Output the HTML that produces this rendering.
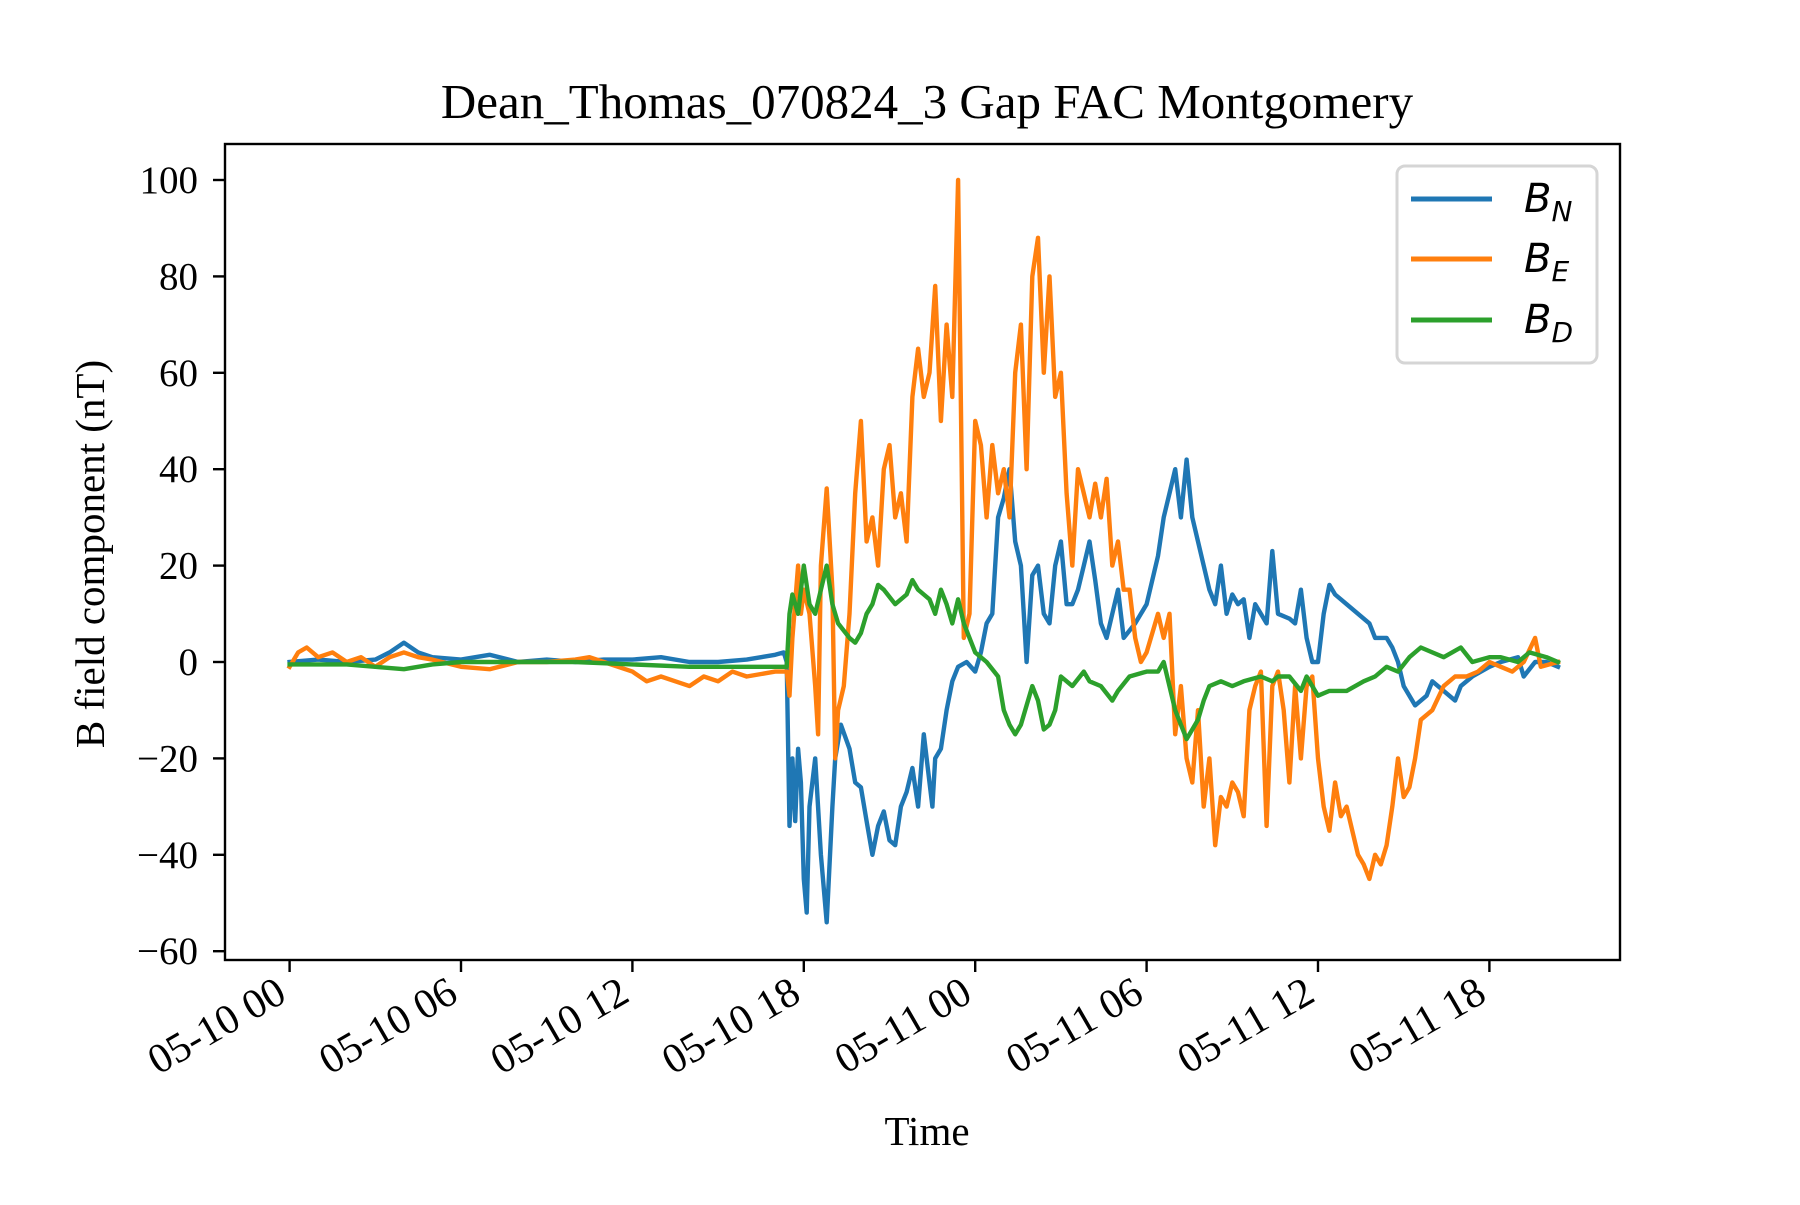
<!DOCTYPE html>
<html><head><meta charset="utf-8"><style>
html,body{margin:0;padding:0;background:#fff;}
svg text{font-family:"Liberation Serif",serif;fill:#000;}
</style></head><body>
<svg id="chart" width="1800" height="1200" xmlns="http://www.w3.org/2000/svg">
<rect width="1800" height="1200" fill="#fff"/>
<text x="927" y="118" font-size="49" text-anchor="middle">Dean_Thomas_070824_3 Gap FAC Montgomery</text>
<g id="plot"></g>
<text x="927" y="1145" font-size="41" text-anchor="middle">Time</text>
<text transform="translate(104,554) rotate(-90)" font-size="41" text-anchor="middle">B field component (nT)</text>
<g>
<rect x="1397" y="166" width="200" height="197" rx="8" fill="#fff" fill-opacity="0.8" stroke="#d5d5d5" stroke-width="3"/>
<line x1="1411" y1="199" x2="1492" y2="199" stroke="#1f77b4" stroke-width="5"/>
<line x1="1411" y1="259" x2="1492" y2="259" stroke="#ff7f0e" stroke-width="5"/>
<line x1="1411" y1="320" x2="1492" y2="320" stroke="#2ca02c" stroke-width="5"/>
<text x="1524" y="212" font-size="40" font-style="italic" style="font-family:'DejaVu Sans',sans-serif">B<tspan font-size="28" dy="9">N</tspan></text>
<text x="1524" y="272" font-size="40" font-style="italic" style="font-family:'DejaVu Sans',sans-serif">B<tspan font-size="28" dy="9">E</tspan></text>
<text x="1524" y="333" font-size="40" font-style="italic" style="font-family:'DejaVu Sans',sans-serif">B<tspan font-size="28" dy="9">D</tspan></text>
</g>
</svg>
<script>
const xTickHours=[0,6,12,18,24,30,36,42];
const xTickLabels=["05-10 00","05-10 06","05-10 12","05-10 18","05-11 00","05-11 06","05-11 12","05-11 18"];
const yTicks=[-60,-40,-20,0,20,40,60,80,100];
const yTickLabels=["\u221260","\u221240","\u221220","0","20","40","60","80","100"];
const bnT=[0,1,2,3,3.5,4,4.5,5,6,7,8,9,10,11,12,13,14,15,16,17,17.3,17.4,17.5,17.6,17.7,17.8,17.9,18.0,18.1,18.2,18.4,18.6,18.8,19.0,19.1,19.3,19.6,19.8,20.0,20.2,20.4,20.6,20.8,21.0,21.2,21.4,21.6,21.8,22.0,22.2,22.4,22.5,22.6,22.8,23.0,23.2,23.4,23.7,24.0,24.2,24.4,24.6,24.8,25.0,25.2,25.4,25.6,25.7,25.8,26.0,26.2,26.4,26.6,26.8,27.0,27.2,27.4,27.6,27.8,28.0,28.2,28.4,28.6,28.8,29.0,29.2,29.6,30.0,30.4,30.6,30.8,31.0,31.2,31.4,31.6,31.8,32.0,32.2,32.4,32.6,32.8,33.0,33.2,33.4,33.6,33.8,34.2,34.4,34.6,35.0,35.2,35.4,35.6,35.8,36.0,36.2,36.4,36.6,37.0,37.4,37.8,38.0,38.4,38.6,38.8,39.0,39.4,39.8,40.0,40.4,40.8,41.0,41.4,42.0,42.4,43.0,43.2,43.6,44.0,44.4];
const bnV=[0,0.5,0,0.5,2,4,2,1,0.5,1.5,0,0.5,0,0.5,0.5,1,0,0,0.5,1.5,2,0,-34,-20,-33,-18,-25,-45,-52,-30,-20,-40,-54,-30,-20,-13,-18,-25,-26,-33,-40,-34,-31,-37,-38,-30,-27,-22,-30,-15,-25,-30,-20,-18,-10,-4,-1,0,-2,2,8,10,30,34,40,25,20,10,0,18,20,10,8,20,25,12,12,15,20,25,17,8,5,10,15,5,8,12,22,30,35,40,30,42,30,25,20,15,12,20,10,14,12,13,5,12,8,23,10,9,8,15,5,0,0,10,16,14,12,10,8,5,5,3,0,-5,-9,-7,-4,-6,-8,-5,-3,-1,0,1,-3,0,0,-1];
const beT=[0,0.3,0.6,1,1.5,2,2.5,3,3.5,4,4.5,5,6,7,8,9,10,10.5,11,12,12.5,13,13.5,14,14.5,15,15.5,16,17,17.4,17.5,17.6,17.8,17.9,18.0,18.2,18.4,18.5,18.6,18.8,19.0,19.1,19.2,19.4,19.6,19.8,20.0,20.2,20.4,20.6,20.8,21.0,21.2,21.4,21.6,21.8,22.0,22.2,22.4,22.6,22.8,23.0,23.2,23.4,23.6,23.8,24.0,24.2,24.4,24.6,24.8,25.0,25.2,25.4,25.6,25.8,26.0,26.2,26.4,26.6,26.8,27.0,27.2,27.4,27.6,27.8,28.0,28.2,28.4,28.6,28.8,29.0,29.2,29.4,29.6,29.8,30.0,30.2,30.4,30.6,30.8,31.0,31.2,31.4,31.6,31.8,32.0,32.2,32.4,32.6,32.8,33.0,33.2,33.4,33.6,33.8,34.0,34.2,34.4,34.6,34.8,35.0,35.2,35.4,35.6,35.8,36.0,36.2,36.4,36.6,36.8,37.0,37.2,37.4,37.6,37.8,38.0,38.2,38.4,38.6,38.8,39.0,39.2,39.4,39.6,40.0,40.4,40.8,41.2,41.6,42.0,42.4,42.8,43.2,43.6,43.8,44.4];
const beV=[-1,2,3,1,2,0,1,-1,1,2,1,0.5,-1,-1.5,0,0,0.5,1,0,-2,-4,-3,-4,-5,-3,-4,-2,-3,-2,-2,-7,5,20,10,15,10,-5,-15,20,36,15,-20,-10,-5,10,35,50,25,30,20,40,45,30,35,25,55,65,55,60,78,50,70,55,100,5,10,50,45,30,45,35,40,30,60,70,40,80,88,60,80,55,60,35,20,40,35,30,37,30,38,20,25,15,15,5,0,2,6,10,5,10,-15,-5,-20,-25,-10,-30,-20,-38,-28,-30,-25,-27,-32,-10,-5,-2,-34,-5,-2,-10,-25,-5,-20,-5,-3,-20,-30,-35,-25,-32,-30,-35,-40,-42,-45,-40,-42,-38,-30,-20,-28,-26,-20,-12,-10,-5,-3,-3,-2,0,-1,-2,0,5,-1,0];
const bdT=[0,2,3,4,5,6,8,10,12,14,16,17,17.4,17.5,17.6,17.8,18.0,18.2,18.4,18.6,18.8,19.0,19.2,19.6,19.8,20.0,20.2,20.4,20.6,20.8,21.2,21.6,21.8,22.0,22.2,22.4,22.6,22.8,23.0,23.2,23.4,23.6,24.0,24.4,24.8,25.0,25.2,25.4,25.6,25.8,26.0,26.2,26.4,26.6,26.8,27.0,27.4,27.8,28.0,28.4,28.8,29.0,29.4,30.0,30.4,30.6,31.0,31.2,31.4,31.6,31.8,32.0,32.2,32.6,33.0,33.4,34.0,34.4,34.6,35.0,35.4,35.6,36.0,36.4,37.0,37.6,38.0,38.4,38.8,39.2,39.6,40.0,40.4,41.0,41.4,42.0,42.4,43.0,43.4,44.0,44.4];
const bdV=[-0.5,-0.5,-1,-1.5,-0.5,0,0,0,-0.5,-1,-1,-1,-1,10,14,10,20,12,10,15,20,12,8,5,4,6,10,12,16,15,12,14,17,15,14,13,10,15,12,8,13,8,2,0,-3,-10,-13,-15,-13,-9,-5,-8,-14,-13,-10,-3,-5,-2,-4,-5,-8,-6,-3,-2,-2,0,-10,-13,-16,-14,-12,-8,-5,-4,-5,-4,-3,-4,-3,-3,-6,-3,-7,-6,-6,-4,-3,-1,-2,1,3,2,1,3,0,1,1,0,2,1,0];

const X0=289.6, XPH=171.4/6;
const xs=h=>X0+h*XPH;
const ys=v=>180+(100-v)*4.82;
const NS="http://www.w3.org/2000/svg";
const plot=document.getElementById('plot');
function mk(tag,attrs){const e=document.createElementNS(NS,tag);for(const k in attrs)e.setAttribute(k,attrs[k]);plot.appendChild(e);return e;}

function series(T,V,color,name){
  let d='';
  for(let i=0;i<T.length;i++){d+=(i?'L':'M')+xs(T[i]).toFixed(1)+','+ys(V[i]).toFixed(1);}
  const p=mk('path',{d:d,fill:'none',stroke:color,'stroke-width':4.4,'stroke-linejoin':'round','stroke-linecap':'square'});
  
  
}
series(bnT,bnV,'#1f77b4','series-bn-line');
series(beT,beV,'#ff7f0e','series-be-line');
series(bdT,bdV,'#2ca02c','series-bd-line');

const frame=mk('rect',{x:225,y:144,width:1395,height:816,fill:'none',stroke:'#000','stroke-width':2.4});



yTicks.forEach((v,i)=>{
  const y=ys(v);
  const t=mk('line',{x1:213,x2:225,y1:y,y2:y,stroke:'#000','stroke-width':2.4});
  
  
  const l=mk('text',{x:198,y:y+13,'font-size':39,'text-anchor':'end'});
  l.textContent=yTickLabels[i];
  
  
});
xTickHours.forEach((h,i)=>{
  const x=xs(h);
  const t=mk('line',{x1:x,x2:x,y1:960,y2:972,stroke:'#000','stroke-width':2.4});
  
  
  const l=mk('text',{transform:`translate(${x-1},${1000}) rotate(-30)`,'font-size':42,'text-anchor':'end'});
  l.textContent=xTickLabels[i];
  
  
});
</script>
</body></html>
